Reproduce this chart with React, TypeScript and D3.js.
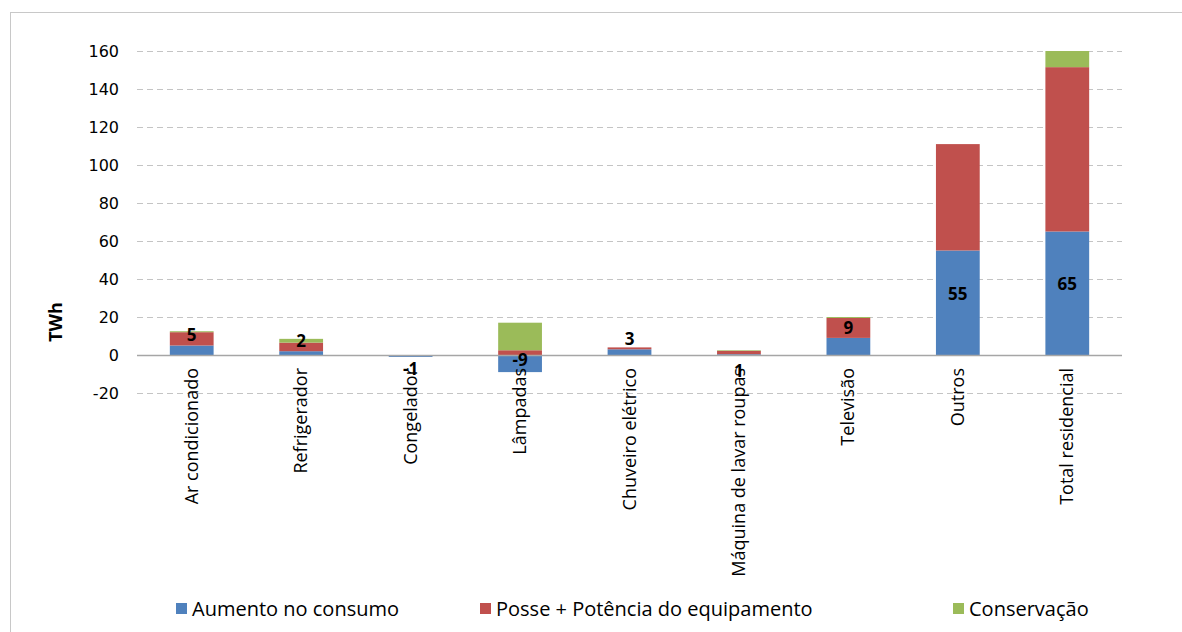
import React, { useEffect, useRef } from "react";
import * as d3 from "d3";

const categories = [
  "Ar condicionado",
  "Refrigerador",
  "Congelador",
  "Lâmpadas",
  "Chuveiro elétrico",
  "Máquina de lavar roupas",
  "Televisão",
  "Outros",
  "Total residencial",
];
const aumento = [5, 2, -1, -9, 3, 0.4, 9, 55, 65];
const posse = [7, 4.5, 0, 2.5, 1, 1.8, 10.5, 56, 86.5];
const conservacao = [0.5, 2, 0, 14.5, 0, 0.3, 0.5, 0, 8.5];
const labels = ["5", "2", "-1", "-9", "3", "1", "9", "55", "65"];
const seriesNames = ["Aumento no consumo", "Posse + Potência do equipamento", "Conservação"];
const yTicks = [-20, 0, 20, 40, 60, 80, 100, 120, 140, 160];

const colors = ["#4F81BD", "#C0504D", "#9BBB59"];

const App = () => {
  const ref = useRef<SVGSVGElement>(null);

  useEffect(() => {
    const svg = d3.select(ref.current);
    svg.selectAll("*").remove();

    const font = "'Open Sans', 'DejaVu Sans', sans-serif";

    svg
      .append("rect")
      .attr("x", 10.5)
      .attr("y", 12.5)
      .attr("width", 1180)
      .attr("height", 630)
      .attr("fill", "#fff")
      .attr("stroke", "#c8c8c8");

    const x = d3.scaleBand().domain(categories).range([137, 1122]).paddingInner(0.6).paddingOuter(0.3);
    const y = d3.scaleLinear().domain([-20, 160]).range([393, 51]);

    const rows = categories.map((c, i) => ({
      cat: c,
      a: aumento[i],
      p: posse[i],
      c: conservacao[i],
    }));
    const stack = d3
      .stack<any>()
      .keys(["a", "p", "c"])
      .offset(d3.stackOffsetDiverging);
    const series = stack(rows);

    // grid
    svg
      .append("g")
      .selectAll("line")
      .data(yTicks.filter((t) => t !== 0))
      .join("line")
      .attr("x1", 137)
      .attr("x2", 1122)
      .attr("y1", (d) => Math.round(y(d)) + 0.5)
      .attr("y2", (d) => Math.round(y(d)) + 0.5)
      .attr("stroke", "#c4c4c4")
      .attr("stroke-dasharray", "6,4");

    const yAxis = svg
      .append("g")
      .attr("transform", "translate(137,0)")
      .call(
        d3
          .axisLeft(y)
          .tickValues(yTicks)
          .tickFormat((d) => String(d))
          .tickSize(0)
          .tickPadding(18)
      );
    yAxis.select(".domain").remove();
    yAxis
      .selectAll("text")
      .attr("font-family", "Tahoma, 'DejaVu Sans', sans-serif")
      .attr("font-size", 16)
      .attr("fill", "#000");

    svg
      .append("text")
      .attr("transform", `translate(56,322) rotate(-90)`)
      .attr("text-anchor", "middle")
      .attr("dy", "0.35em")
      .attr("font-family", font)
      .attr("font-weight", "bold")
      .attr("font-size", 18)
      .text("TWh");

    // bars
    svg
      .append("g")
      .selectAll("g")
      .data(series)
      .join("g")
      .attr("fill", (_, i) => colors[i])
      .selectAll("rect")
      .data((d) => d)
      .join("rect")
      .attr("x", (d: any) => x(d.data.cat)!)
      .attr("width", x.bandwidth())
      .attr("y", (d) => y(Math.max(d[0], d[1])))
      .attr("height", (d) => Math.abs(y(d[0]) - y(d[1])));

    // zero line
    svg
      .append("line")
      .attr("x1", 137)
      .attr("x2", 1122)
      .attr("y1", Math.round(y(0)) + 0.5)
      .attr("y2", Math.round(y(0)) + 0.5)
      .attr("stroke", "#a6a6a6")
      .attr("stroke-width", 1.5);

    // data labels on the blue series
    svg
      .append("g")
      .selectAll("text")
      .data(series[0])
      .join("text")
      .attr("x", (d: any) => x(d.data.cat)! + x.bandwidth() / 2)
      .attr("y", (d, i) => {
        const top = y(Math.max(d[0], d[1]));
        const bot = y(Math.min(d[0], d[1]));
        const h = bot - top;
        if (h > 40) return (top + bot) / 2 - 9;
        if (aumento[i] < 0) return h > 10 ? top + 5 : bot + 12;
        if (h < 2) return bot + 16;
        return top - 10;
      })
      .attr("dy", "0.35em")
      .attr("text-anchor", "middle")
      .attr("font-family", font)
      .attr("font-weight", "bold")
      .attr("font-size", 17)
      .attr("fill", "#000")
      .text((_, i) => labels[i]);

    // category labels
    svg
      .append("g")
      .selectAll("text")
      .data(categories)
      .join("text")
      .attr("transform", (d) => `translate(${x(d)! + x.bandwidth() / 2 + 6},368) rotate(-90)`)
      .attr("text-anchor", "end")
      .attr("font-family", font)
      .attr("font-size", 18)
      .attr("fill", "#000")
      .text((d) => d);

    // legend
    const legendX = [176, 480, 953];
    const lg = svg
      .append("g")
      .selectAll("g")
      .data(seriesNames)
      .join("g")
      .attr("transform", (_, i) => `translate(${legendX[i]},609)`);
    lg.append("rect")
      .attr("x", 0)
      .attr("y", -6)
      .attr("width", 11)
      .attr("height", 11)
      .attr("fill", (_, i) => colors[i]);
    lg.append("text")
      .attr("x", 16)
      .attr("y", 0)
      .attr("dy", "0.35em")
      .attr("font-family", font)
      .attr("font-size", 20)
      .attr("fill", "#000")
      .text((d) => d);
  }, []);

  return (
    <svg
      ref={ref}
      width={1182}
      height={632}
      style={{ position: "absolute", left: 0, top: 0, background: "#fff" }}
    />
  );
};

export default App;
